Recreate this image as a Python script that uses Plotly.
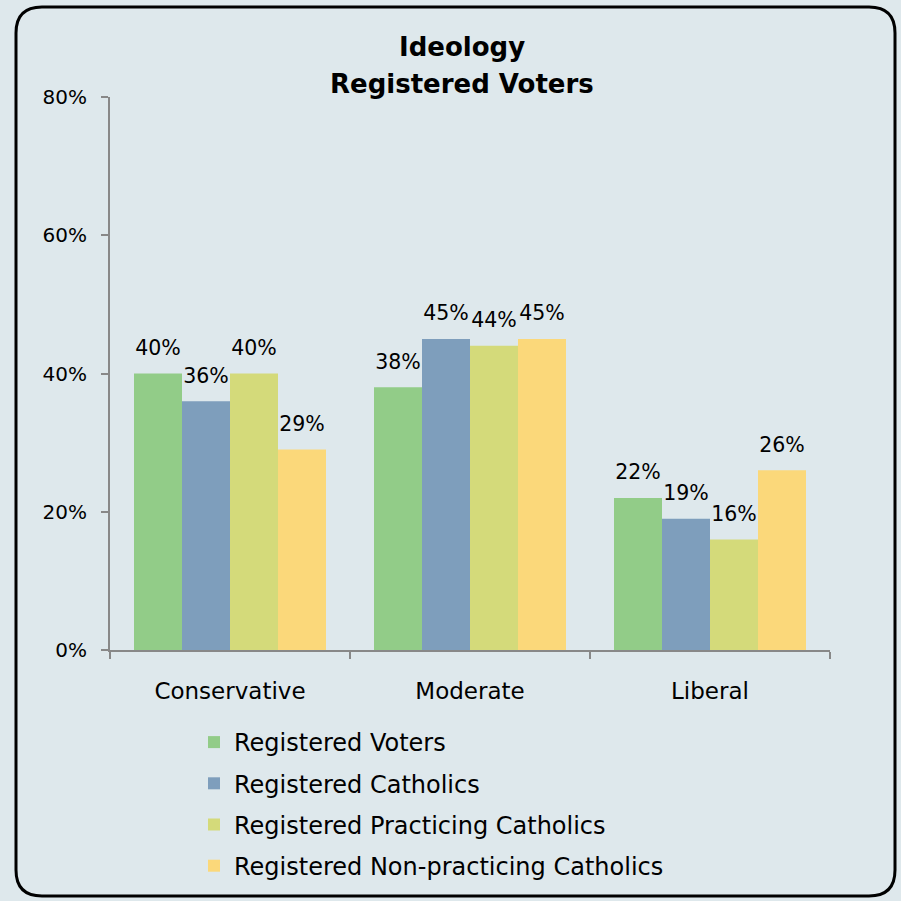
import plotly.graph_objects as go

categories = ["Conservative", "Moderate", "Liberal"]
series_names = [
    "Registered Voters",
    "Registered Catholics",
    "Registered Practicing Catholics",
    "Registered Non-practicing Catholics",
]
registered_voters = [40, 38, 22]
registered_catholics = [36, 45, 19]
practicing_catholics = [40, 44, 16]
non_practicing_catholics = [29, 45, 26]
y_ticks = [0, 20, 40, 60, 80]
y_tick_labels = ["0%", "20%", "40%", "60%", "80%"]
colors = ["#92CC88", "#7E9EBC", "#D4DA7A", "#FBD87A"]

values = [registered_voters, registered_catholics, practicing_catholics, non_practicing_catholics]

FONT = "DejaVu Sans"
BG = "#DEE8EC"
W, H = 901, 901
L, R, T, B = 110, 71, 97, 251

fig = go.Figure()
for i, (name, vals, color) in enumerate(zip(series_names, values, colors)):
    fig.add_trace(
        go.Bar(
            name=name,
            legendgroup=name,
            offsetgroup=str(i),
            x=categories,
            y=vals,
            marker=dict(color=color, line=dict(width=0)),
        )
    )
# value labels sit a bit higher above the bars than bar text allows
for i, (name, vals) in enumerate(zip(series_names, values)):
    fig.add_trace(
        go.Scatter(
            name=name,
            legendgroup=name,
            showlegend=False,
            offsetgroup=str(i),
            x=categories,
            y=vals,
            mode="markers+text",
            marker=dict(size=20, opacity=0),
            text=[f"{v}%" for v in vals],
            textposition="top center",
            textfont=dict(size=20.5, color="black", family=FONT),
            cliponaxis=False,
            hoverinfo="skip",
        )
    )

pw, ph = W - L - R, H - T - B


def px_x(x):
    return (x - L) / pw


def px_y(y):
    return (H - B - y) / ph


# rounded frame around the whole chart
x0, x1, y0, y1, rad = 16, 895, 7, 896, 26
path = (
    f"M {px_x(x0 + rad)} {px_y(y0)} L {px_x(x1 - rad)} {px_y(y0)} "
    f"Q {px_x(x1)} {px_y(y0)} {px_x(x1)} {px_y(y0 + rad)} "
    f"L {px_x(x1)} {px_y(y1 - rad)} "
    f"Q {px_x(x1)} {px_y(y1)} {px_x(x1 - rad)} {px_y(y1)} "
    f"L {px_x(x0 + rad)} {px_y(y1)} "
    f"Q {px_x(x0)} {px_y(y1)} {px_x(x0)} {px_y(y1 - rad)} "
    f"L {px_x(x0)} {px_y(y0 + rad)} "
    f"Q {px_x(x0)} {px_y(y0)} {px_x(x0 + rad)} {px_y(y0)} Z"
)

title_lines = ["Ideology", "Registered Voters"]
title_y = [47, 84]

fig.update_layout(
    width=W,
    height=H,
    barmode="group",
    bargap=0.2,
    bargroupgap=0,
    scattermode="group",
    scattergap=0.2,
    paper_bgcolor=BG,
    plot_bgcolor=BG,
    margin=dict(l=L, r=R, t=T, b=B, autoexpand=False),
    font=dict(family=FONT, size=21, color="black"),
    annotations=[
        dict(
            text=f"<b>{line}</b>",
            xref="paper",
            yref="paper",
            x=px_x(462),
            y=px_y(yy),
            xanchor="center",
            yanchor="middle",
            showarrow=False,
            font=dict(size=26, family=FONT, color="black"),
        )
        for line, yy in zip(title_lines, title_y)
    ],
    xaxis=dict(
        showline=True,
        linecolor="#888888",
        linewidth=2,
        ticks="outside",
        tickson="boundaries",
        ticklen=7,
        tickcolor="#888888",
        tickwidth=2,
        tickfont=dict(size=23),
        ticklabelstandoff=19,
        showgrid=False,
        automargin=False,
    ),
    yaxis=dict(
        range=[0, 80],
        tickvals=y_ticks,
        ticktext=y_tick_labels,
        showline=True,
        linecolor="#888888",
        linewidth=2,
        ticks="outside",
        ticklen=7,
        tickcolor="#888888",
        tickwidth=2,
        tickfont=dict(size=20),
        ticklabelstandoff=10,
        showgrid=False,
        zeroline=False,
        automargin=False,
    ),
    legend=dict(
        orientation="v",
        x=px_x(194),
        xanchor="left",
        y=px_y(720),
        yanchor="top",
        font=dict(size=24),
        bgcolor="rgba(0,0,0,0)",
        tracegroupgap=7,
        itemwidth=30,
    ),
    shapes=[
        dict(
            type="path",
            xref="paper",
            yref="paper",
            path=path,
            line=dict(color="black", width=3),
            fillcolor="rgba(0,0,0,0)",
            layer="below",
        )
    ],
    showlegend=True,
)

# drop the browser's default page margin so the figure fills the window
fig.write_html(
    "out.html",
    config={"displayModeBar": False},
    post_script=f"document.body.style.margin='0';document.body.style.background='{BG}';",
)
